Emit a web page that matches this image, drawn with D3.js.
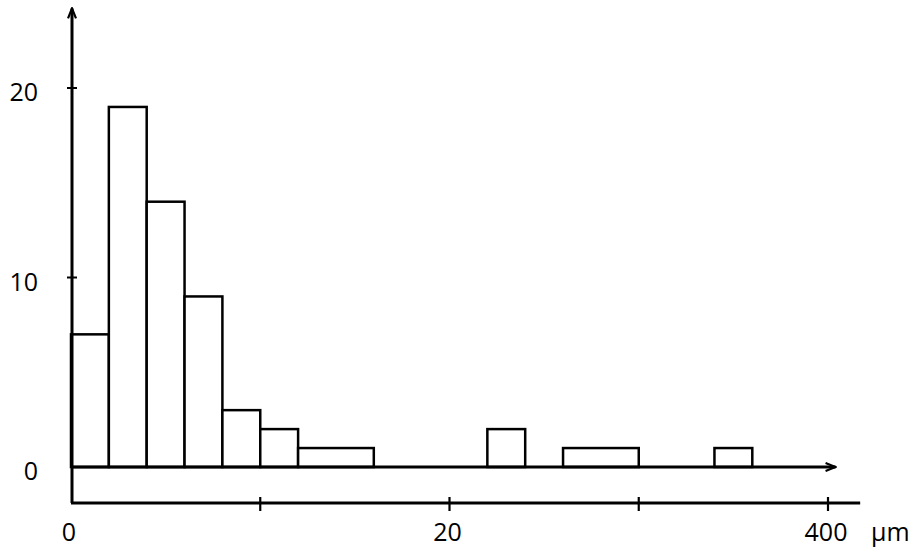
<!DOCTYPE html>
<html>
<head>
<meta charset="utf-8">
<script src="https://cdn.jsdelivr.net/npm/d3@7"></script>
<style>
  html, body { margin: 0; padding: 0; background: #fff; }
  text { font-family: "Open Sans", sans-serif; font-size: 25px; fill: #000; }
</style>
</head>
<body>
<script>
// histogram bins in µm (start, end) and counts
const binStart = [0, 20, 40, 60, 80, 100, 120, 220, 260, 340];
const binEnd   = [20, 40, 60, 80, 100, 120, 160, 240, 300, 360];
const counts   = [7, 19, 14, 9, 3, 2, 1, 2, 1, 1];

const yTicks = [0, 10, 20];
const yTickMarks = [10, 20];
const xTicks = [100, 200, 300, 400];
const xLabelValues = [0, 200, 400];
const xLabelTexts = ["0", "20", "400"];
const unit = "µm";

function main() {
  const width = 916;
  const height = 548;
  const marginLeft = 71;
  const marginRight = 88;
  const baseY = 467;
  const topY = 88;
  const lowerAxisY = 503;

  const x = d3.scaleLinear()
    .domain([0, 400])
    .range([marginLeft, width - marginRight]);

  const y = d3.scaleLinear()
    .domain([0, 20])
    .range([baseY, topY]);

  const svg = d3.create("svg")
    .attr("width", width)
    .attr("height", height);

  const bins = counts.map((c, i) => ({ x0: binStart[i], x1: binEnd[i], n: c }));

  // bars
  svg.append("g")
    .attr("fill", "white")
    .attr("stroke", "black")
    .attr("stroke-width", 2.5)
    .selectAll("rect")
    .data(bins)
    .join("rect")
    .attr("x", d => x(d.x0))
    .attr("y", d => y(d.n))
    .attr("width", d => x(d.x1) - x(d.x0))
    .attr("height", d => y(0) - y(d.n));

  // arrow marker
  svg.append("defs").append("marker")
    .attr("id", "arrow")
    .attr("viewBox", "0 0 12 10")
    .attr("refX", 11)
    .attr("refY", 5)
    .attr("markerWidth", 12)
    .attr("markerHeight", 10)
    .attr("markerUnits", "userSpaceOnUse")
    .attr("orient", "auto")
    .append("path")
    .attr("d", "M1,1 L11,5 L1,9")
    .attr("fill", "none")
    .attr("stroke", "black")
    .attr("stroke-width", 2.2);

  const axes = svg.append("g")
    .attr("stroke", "black")
    .attr("stroke-width", 3)
    .attr("fill", "none");

  // baseline with arrow
  axes.append("line")
    .attr("x1", x(0))
    .attr("x2", x(404))
    .attr("y1", y(0))
    .attr("y2", y(0))
    .attr("marker-end", "url(#arrow)");

  // vertical axis with arrow
  axes.append("line")
    .attr("x1", x(0) + 1)
    .attr("x2", x(0) + 1)
    .attr("y1", lowerAxisY)
    .attr("y2", y(24.2))
    .attr("marker-end", "url(#arrow)");

  // lower scale line
  axes.append("line")
    .attr("x1", x(0))
    .attr("x2", x(417))
    .attr("y1", lowerAxisY)
    .attr("y2", lowerAxisY);

  // y tick crosses
  axes.selectAll(".yt")
    .data(yTickMarks)
    .join("line")
    .attr("x1", x(0) - 4)
    .attr("x2", x(0) + 6)
    .attr("y1", d => y(d))
    .attr("y2", d => y(d))
    .attr("stroke-width", 2);

  // lower scale ticks
  axes.selectAll(".xt")
    .data(xTicks)
    .join("line")
    .attr("x1", d => x(d))
    .attr("x2", d => x(d))
    .attr("y1", lowerAxisY - 6)
    .attr("y2", lowerAxisY + 8)
    .attr("stroke-width", 2.2);

  // y labels
  svg.append("g")
    .selectAll("text")
    .data(yTicks)
    .join("text")
    .attr("x", x(0) - 33)
    .attr("y", d => y(d) + 3)
    .attr("text-anchor", "end")
    .attr("dominant-baseline", "central")
    .text(d => d);

  // x labels
  svg.append("g")
    .selectAll("text")
    .data(xLabelValues)
    .join("text")
    .attr("x", d => x(d) - 2)
    .attr("y", 541)
    .attr("text-anchor", "middle")
    .text((d, i) => xLabelTexts[i]);

  svg.append("text")
    .attr("x", x(400) + 43)
    .attr("y", 541)
    .text(unit);

  document.body.appendChild(svg.node());
}

main();
</script>
</body>
</html>
